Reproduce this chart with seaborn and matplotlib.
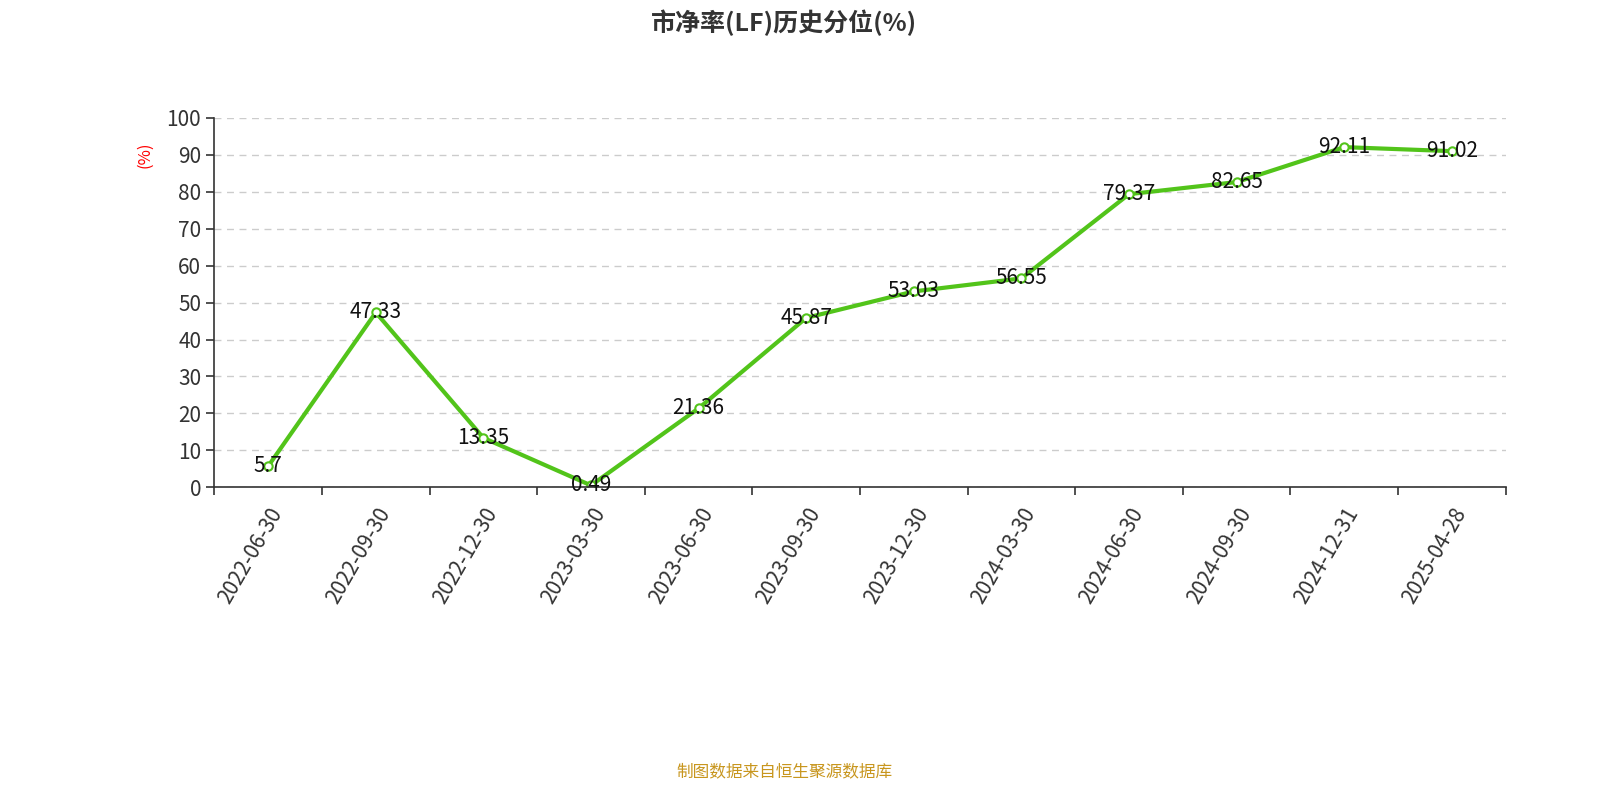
import matplotlib
matplotlib.use("Agg")
import matplotlib.pyplot as plt
import seaborn as sns
import numpy as np
import pandas as pd

dates = ["2022-06-30","2022-09-30","2022-12-30","2023-03-30","2023-06-30","2023-09-30",
         "2023-12-30","2024-03-30","2024-06-30","2024-09-30","2024-12-31","2025-04-28"]
values = [5.7,47.33,13.35,0.49,21.36,45.87,53.03,56.55,79.37,82.65,92.11,91.02]
labels = ["5.7","47.33","13.35","0.49","21.36","45.87","53.03","56.55","79.37","82.65","92.11","91.02"]

sns.set_style("white")
plt.rcParams['font.family'] = ['Noto Sans CJK SC', 'DejaVu Sans']

fig = plt.figure(figsize=(16, 8), dpi=100)
ax = fig.add_axes([0.134, 0.391, 0.807, 0.4615])
df = pd.DataFrame({"x": np.arange(len(dates)), "y": values})
color = "#52C41A"
sns.lineplot(data=df, x="x", y="y", ax=ax, color=color, linewidth=3,
             marker="o", markersize=6, markerfacecolor="white",
             markeredgecolor=color, markeredgewidth=1.5)
for xi, yi, t in zip(df.x, df.y, labels):
    ax.text(xi, yi, t, ha="center", va="center", fontsize=15, color="#111111")

ax.set_xlim(-0.5, len(dates) - 0.5)
ax.set_ylim(0, 100)
ax.set_yticks(range(0, 101, 10))
ax.set_yticklabels([str(v) for v in range(0, 101, 10)], fontsize=15, color="#333333")
ax.set_xticks(np.arange(len(dates)))
ax.set_xticklabels(dates, rotation=60, ha="right", rotation_mode="anchor", fontsize=15, color="#333333")
ax.set_xticks(np.arange(len(dates) + 1) - 0.5, minor=True)
ax.tick_params(axis="x", which="major", length=0, pad=12, bottom=True)
ax.tick_params(axis="x", which="minor", length=6, width=1.2, color="#333333", direction="out", bottom=True)
ax.tick_params(axis="y", length=6, width=1.2, color="#333333", direction="out", left=True)
ax.grid(axis="y", linestyle=(0, (5, 4)), color="#cccccc", linewidth=1)
ax.grid(axis="x", visible=False)
for s in ["top", "right"]:
    ax.spines[s].set_visible(False)
for s in ["left", "bottom"]:
    ax.spines[s].set_color("#333333")
    ax.spines[s].set_linewidth(1.2)
ax.set_xlabel("")
ax.set_ylabel("(%)", color="red", fontsize=12)
ax.yaxis.set_label_coords(-0.047, 0.9)

fig.text(0.49, 0.972, "市净率(LF)历史分位(%)", ha="center", va="center",
         fontsize=18, fontweight="bold", color="#333333")
fig.text(0.49, 0.034, "制图数据来自恒生聚源数据库", ha="center", va="center",
         fontsize=12, color="#C8961E")

fig.savefig("out.png", dpi=100)
